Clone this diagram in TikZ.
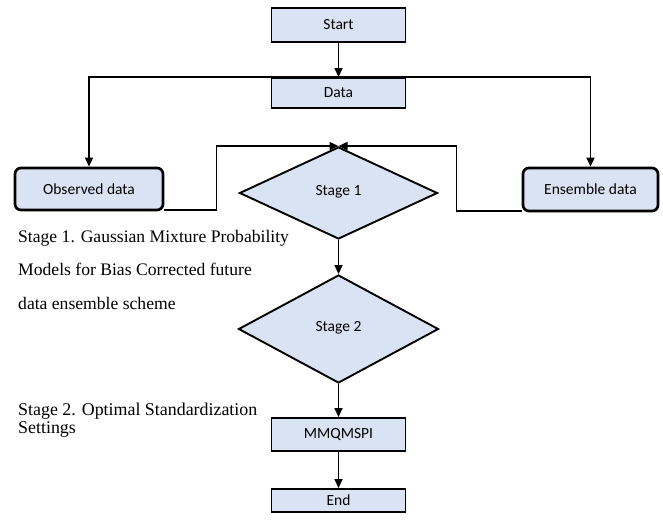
\documentclass[tikz,border=0pt]{standalone}
\usepackage{fontspec}
\setmainfont{Liberation Serif}
\newfontfamily\boxfont{Carlito}
\usetikzlibrary{shapes.geometric,arrows.meta}
\definecolor{boxblue}{HTML}{DAE3F3}
\tikzset{
Etape/.style={
 draw=black,
 fill=boxblue,
 line width=1.9pt,
 minimum width=134pt,
 inner sep=0pt,
 font=\boxfont\fontsize{15.5}{18}\selectfont
 },
Source/.style={
 Etape,
 rounded corners=6pt,
 line width=2.7pt
 },
Losange/.style={
 draw=black,
 fill=boxblue,
 line width=1.9pt,
 diamond,
 inner sep=0pt,
 font=\boxfont\fontsize{15.5}{18}\selectfont
 },
Fleche/.style={
 draw=black,
 line width=1.6pt,
 -{Triangle[length=9pt,width=8pt]}
 },
Note/.style={
 anchor=base west,
 align=left,
 inner sep=0pt
 }
}
\begin{document}
\begin{tikzpicture}[x=1pt,y=-1pt]
\useasboundingbox (0,0) rectangle (663,522);
\node[Etape,minimum height=34pt] (start) at (338.5,25) {Start};
\node[Etape,minimum height=30pt] (data) at (338.5,93) {Data};
\node[Source,minimum width=148pt,minimum height=42pt] (obs) at (89,189) {Observed data};
\node[Source,minimum width=135pt,minimum height=43pt] (ens) at (590.5,189.5) {Ensemble data};
\node[Losange,minimum width=198pt,minimum height=92pt] (s1) at (338.5,193) {\raisebox{5pt}{Stage 1}};
\node[Losange,minimum width=200pt,minimum height=108pt] (s2) at (338.5,329) {\raisebox{6pt}{Stage 2}};
\node[Etape,minimum height=33pt] (mm) at (338.5,434.5) {MMQMSPI};
\node[Etape,minimum height=23pt] (end) at (338.5,500.5) {End};
\draw[Fleche] (start) -- (data);
\draw[Fleche] (data.north) -| (obs.north);
\draw[Fleche] (data.north) -| (ens.north);
\draw[Fleche] ([yshift=1.5pt]obs.south east) -- ++(52,0) |- (s1.north);
\draw[Fleche] ([yshift=1.5pt]ens.south west) -- ++(-65,0) |- (s1.north);
\draw[Fleche] (s1.south) -- (s2.north);
\draw[Fleche] (s2.south) -- (mm.north);
\draw[Fleche] (mm) -- (end);
\node[Note,font=\fontsize{17.6}{33.5}\selectfont] (n1) at (18,309)
 {Stage 1. Gaussian Mixture Probability\\Models for Bias Corrected future\\data ensemble scheme};
\node[Note,font=\fontsize{17.9}{17.5}\selectfont] (n2) at (18,433)
 {Stage 2. Optimal Standardization\\Settings};
\end{tikzpicture}
\end{document}
